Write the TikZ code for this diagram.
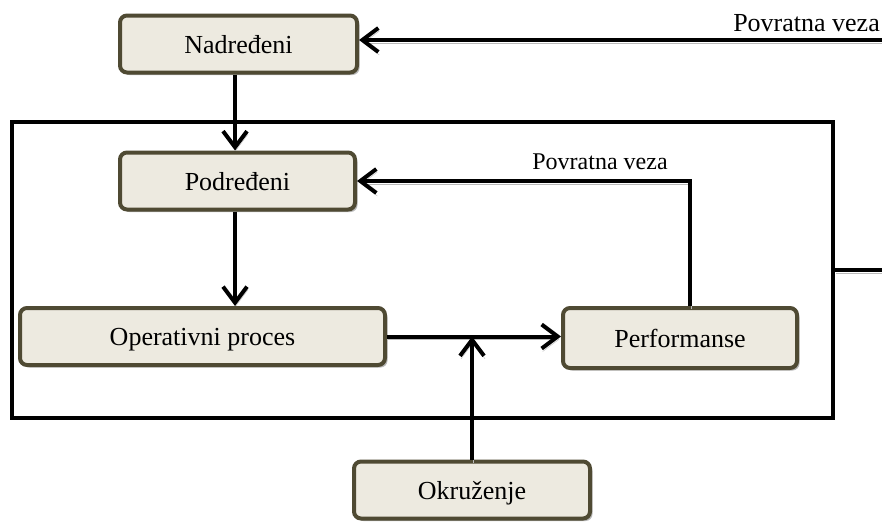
\documentclass[tikz,border=0pt]{standalone}
\usepackage{fontspec}
\setmainfont{Liberation Serif}
\usetikzlibrary{arrows.meta,shadows}

\tikzset{
  blok/.style = {draw=olivedark, fill=beigebox, line width=4pt, rounded corners=7pt,
    minimum height=57pt, font=\fontsize{26}{30}\selectfont, text height=18pt, text depth=0pt,
    drop shadow={shadow xshift=2.5pt, shadow yshift=-2.5pt, fill=gray!55, opacity=1}},
  veza/.style = {line width=4pt, -{Straight Barb[length=16pt,width=24pt]},
    preaction={draw=gray!55, transform canvas={xshift=1pt,yshift=-3pt}}},
  linija/.style = {line width=4pt,
    preaction={draw=gray!55, transform canvas={xshift=1pt,yshift=-3pt}}}
}
\definecolor{olivedark}{HTML}{4F4A33}
\definecolor{beigebox}{HTML}{EDEAE0}

\begin{document}
\begin{tikzpicture}[x=1pt,y=-1pt]
	\useasboundingbox (0,0) rectangle (882,522);
	\node[draw, line width=4pt, minimum width=821pt, minimum height=296pt] (okvir) at (422.5,270) {};
	\node[blok, minimum width=237pt] (nadr) at (238.5,44) {Nadređeni};
	\node[blok, minimum width=235pt] (podr) at (237.5,181) {Podređeni};
	\node[blok, minimum width=365pt] (oper) at (202.5,336.5) {Operativni proces};
	\node[blok, minimum width=234pt, minimum height=60pt] (perf) at (680,338) {Performanse};
	\node[blok, minimum width=236pt] (okr) at (472,490) {Okruženje};

	\coordinate (ulaz) at (882,40);
	\coordinate (izlaz) at (882,270);
	\coordinate (povrat) at (690,178);

	% spoljna povratna veza
	\draw[veza] (ulaz) -- (ulaz -| nadr.east);
	\node[anchor=south east, font=\fontsize{26}{30}\selectfont, inner sep=0pt] (pv1) at (880,32) {Povratna veza};
	\draw[veza] (nadr.south -| 235,0) -- (podr.north -| 235,0);
	\draw[veza] (podr.south -| 235,0) -- (oper.north -| 235,0);
	\draw[veza] (oper.east) -- (perf.west |- oper.east);
	\draw[veza] (okr.north) -- (okr.north |- oper.east);
	% unutrasnja povratna veza
	\draw[veza] (perf.north -| povrat) |- (podr.east);
	\node[anchor=south, font=\fontsize{24}{28}\selectfont, inner sep=0pt] (pv2) at (600,170) {Povratna veza};
	\draw[linija] (okvir.east |- izlaz) -- (izlaz);
\end{tikzpicture}
\end{document}
